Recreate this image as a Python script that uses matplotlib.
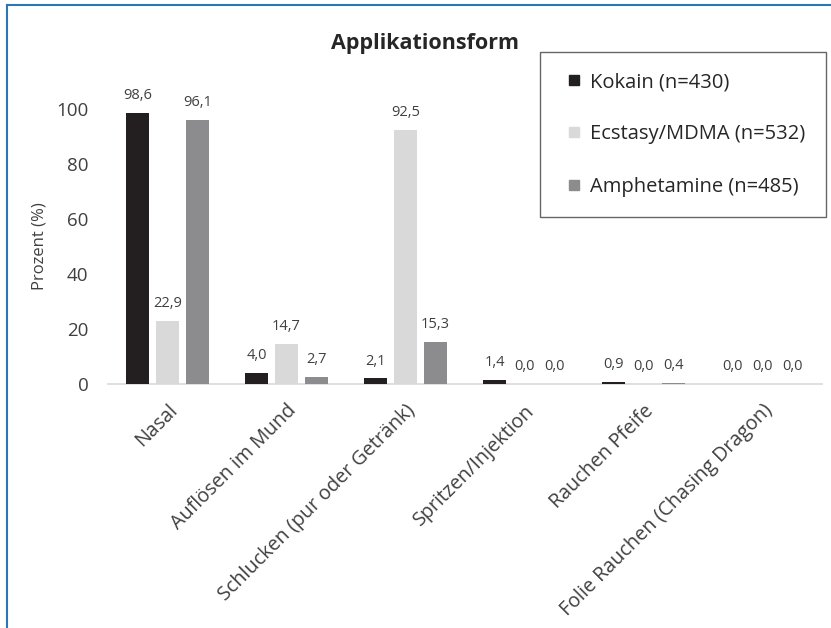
import matplotlib
matplotlib.use("Agg")
import matplotlib.pyplot as plt
from matplotlib.lines import Line2D
import numpy as np

plt.rcParams['font.family'] = ['Open Sans', 'DejaVu Sans']

categories = ["Nasal", "Auflösen im Mund", "Schlucken (pur oder Getränk)",
              "Spritzen/Injektion", "Rauchen Pfeife", "Folie Rauchen (Chasing Dragon)"]
series_names = ["Kokain (n=430)", "Ecstasy/MDMA (n=532)", "Amphetamine (n=485)"]
kokain = [98.6, 4.0, 2.1, 1.4, 0.9, 0.0]
ecstasy = [22.9, 14.7, 92.5, 0.0, 0.0, 0.0]
amphetamine = [96.1, 2.7, 15.3, 0.0, 0.4, 0.0]
colors = ["#231f20", "#d9d9d9", "#8c8c8e"]
yticks = [0, 20, 40, 60, 80, 100]

fig = plt.figure(figsize=(8.31, 6.28), dpi=100)
ax = fig.add_axes([108/831, 1-384/628, 714/831, 275/628])

x = np.arange(len(categories)) + 0.5
width = 0.195
step = 0.252
for i, (vals, name, c) in enumerate(zip([kokain, ecstasy, amphetamine], series_names, colors)):
    pos = x + (i - 1) * step
    ax.bar(pos, vals, width, color=c, label=name, clip_on=False, zorder=3)
    for p, v in zip(pos, vals):
        ax.annotate(f"{v:.1f}".replace(".", ","), (p, v), xytext=(0, 7),
                    textcoords="offset points", ha="center", va="bottom",
                    fontsize=10.5, color="#404040", annotation_clip=False)

ax.set_xlim(0, len(categories))
ax.set_ylim(0, 100)
ax.set_yticks(yticks)
ax.set_yticklabels([str(t) for t in yticks], fontsize=13.5, color="#404040")
ax.tick_params(axis="y", length=0, pad=14)
ax.set_xticks(x)
ax.set_xticklabels(categories, rotation=45, ha="right", rotation_mode="anchor",
                   fontsize=14.2, color="#404040")
ax.tick_params(axis="x", length=0, pad=12)
for s in ["top", "right", "left"]:
    ax.spines[s].set_visible(False)
ax.spines["bottom"].set_color("#d9d9d9")
ax.spines["bottom"].set_linewidth(1.2)
ax.set_ylabel("Prozent (%)", fontsize=12, color="#404040", labelpad=6)

fig.text(425/831, 1-44/628, "Applikationsform", ha="center", va="center",
         fontsize=15.5, fontweight="bold", color="#262626")

handles = [Line2D([], [], marker="s", linestyle="none", markersize=7.5,
                  markerfacecolor=c, markeredgecolor=c) for c in colors]
leg = fig.legend(handles, series_names, loc="upper left",
                 bbox_to_anchor=(540/831, 1-52/628),
                 fontsize=14.5, frameon=True, fancybox=False, handlelength=1.4,
                 handletextpad=0.1, labelspacing=1.6,
                 borderpad=1.0, borderaxespad=0)
leg.get_frame().set_edgecolor("#404040")
leg.get_frame().set_linewidth(1.0)
for t in leg.get_texts():
    t.set_color("#262626")

# outer frame lines
fig.add_artist(Line2D([7/831, 7/831], [0, 1-5/628], color="#2e75b6", lw=1.5))
fig.add_artist(Line2D([7/831, 1], [1-5/628, 1-5/628], color="#2e75b6", lw=1.5))

fig.savefig("out.png", dpi=100)
